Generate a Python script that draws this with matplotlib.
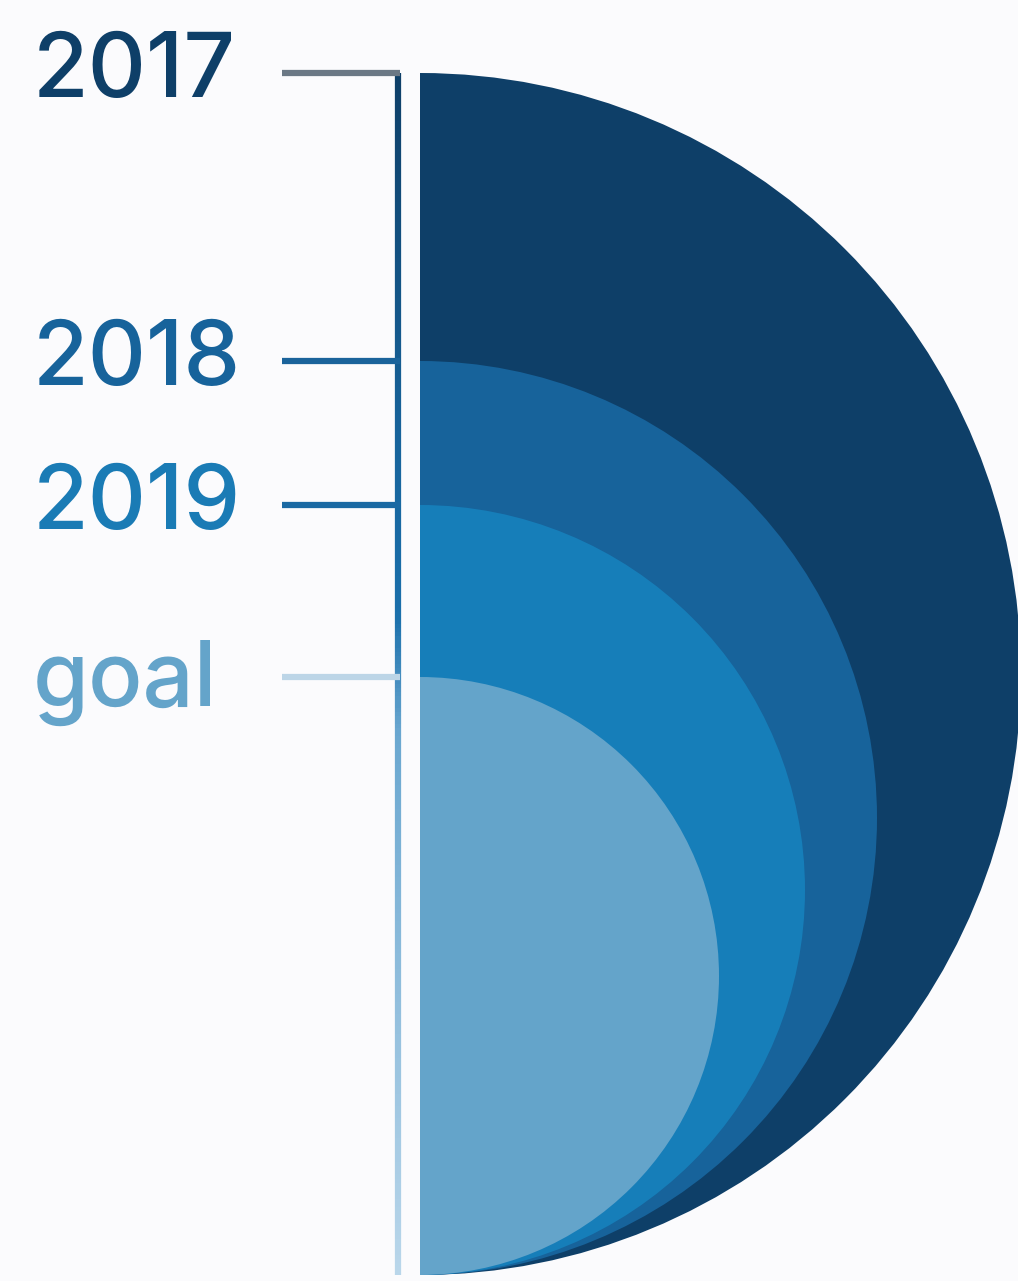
import numpy as np
import matplotlib
matplotlib.use("Agg")
import matplotlib.pyplot as plt
from matplotlib.patches import Wedge
from matplotlib.collections import LineCollection
from matplotlib.colors import LinearSegmentedColormap

# data: label, radius of each half disk (px units of the original graphic)
labels = ['2017', '2018', '2019', 'goal']
radii = [601, 457, 385, 299]
fill_colors = ['#0e3f68', '#17639b', '#167eb9', '#64a4ca']
text_colors = ['#0e3f68', '#17639b', '#1a7bb5', '#64a4ca']
tick_colors = ['#6b7885', '#1a639b', '#1a69a3', '#bcd5e7']

bottom = 1275   # all half disks touch at the bottom
left = 420      # flat edge of the half disks
axis_x = 398

fig = plt.figure(figsize=(10.18, 12.81), dpi=100)
fig.patch.set_facecolor('#fbfbfd')
ax = fig.add_axes([0, 0, 1, 1])
ax.set_xlim(0, 1018)
ax.set_ylim(1281, 0)
ax.set_aspect('equal')
ax.axis('off')

# half disks, biggest first
for r, c in zip(radii, fill_colors):
    w = Wedge((left, bottom - r), r, -90, 90, facecolor=c, edgecolor='none')
    ax.add_patch(w)

# vertical guide line with gradient
top = bottom - 2 * radii[0]
ys = np.linspace(top, bottom, 300)
segs = [[(axis_x, ys[i]), (axis_x, ys[i + 1])] for i in range(len(ys) - 1)]
cmap = LinearSegmentedColormap.from_list(
    'guide', [(0, '#0e3f68'), (0.3, '#17639b'), (0.45, '#1a6fab'),
              (0.55, '#6aa7d0'), (1, '#b9d6ea')])
lc = LineCollection(segs, colors=cmap(np.linspace(0, 1, len(segs))),
                    linewidths=4.5, capstyle='butt')
ax.add_collection(lc)

# ticks and labels
for lab, r, tc, col in zip(labels, radii, text_colors, tick_colors):
    y = bottom - 2 * r
    ax.plot([282, axis_x + 2], [y, y], color=col, lw=4.5, solid_capstyle='butt')
    dy = 6 if lab == 'goal' else 0
    ax.text(33, y + dy, lab, color=tc, fontsize=65, family='Inter',
            weight='medium', ha='left', va='center')

plt.savefig('out.png', dpi=100, facecolor=fig.get_facecolor())
